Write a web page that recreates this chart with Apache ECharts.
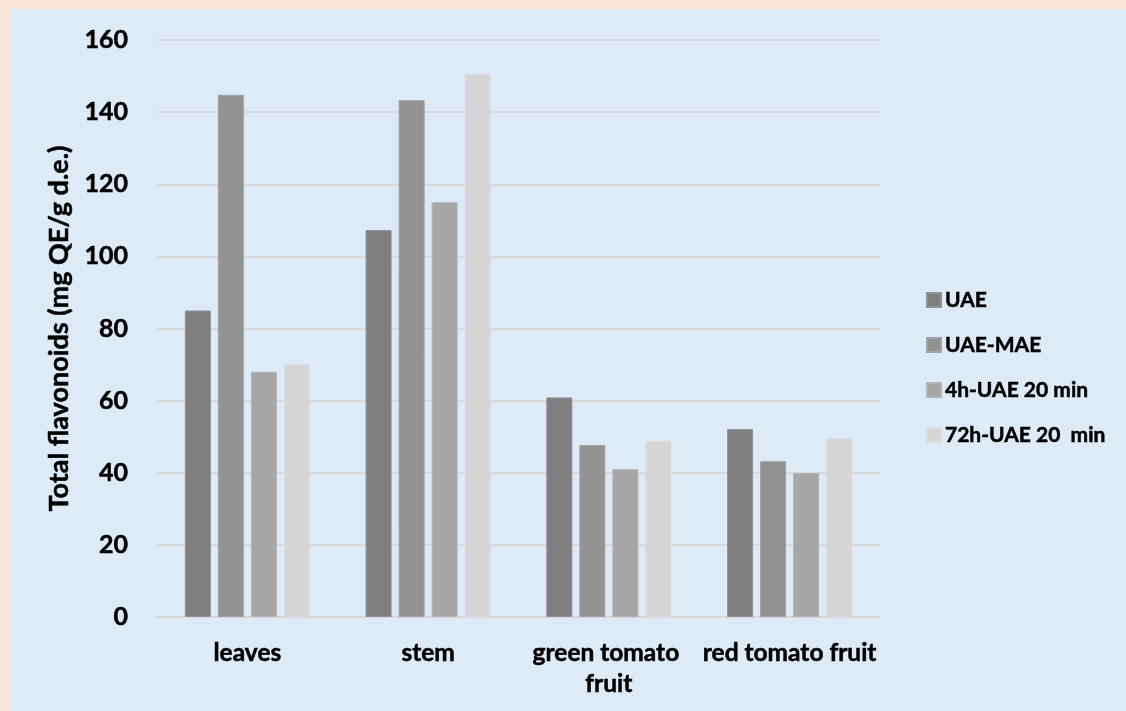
<!DOCTYPE html>
<html>
<head>
<meta charset="utf-8">
<script src="https://cdn.jsdelivr.net/npm/echarts@6/dist/echarts.min.js"></script>
<style>
  html, body { margin: 0; padding: 0; background: #fbe5d6; width: 1126px; height: 711px; overflow: hidden; }
  #chart { position: absolute; left: 9px; top: 9px; width: 1117px; height: 702px; }
</style>
</head>
<body>
<div id="chart"></div>
<script>
// Plant parts on the x axis
const categories = ['leaves', 'stem', 'green tomato fruit', 'red tomato fruit'];

// Extraction methods (legend order)
const seriesNames = ['UAE', 'UAE-MAE', '4h-UAE 20 min', '72h-UAE 20  min'];

// Total flavonoids, mg QE/g d.e.
const uae      = [85.0, 107.3, 60.9, 52.1];
const uaeMae   = [144.8, 143.3, 47.7, 43.2];
const uae4h    = [68.0, 115.0, 41.0, 39.9];
const uae72h   = [70.1, 150.6, 48.8, 49.6];

const yTicks = [0, 20, 40, 60, 80, 100, 120, 140, 160];

const colors = ['#7f7f7f', '#929292', '#a6a6a6', '#d6d6d6'];
const borders = ['#8f9296', '#9fa2a6', '#b2b4b7', '#dcdde0'];
const FONT = 'Lato, "Open Sans", sans-serif';

// slightly heavier strokes for bold text
const heavy = { textBorderColor: '#000', textBorderWidth: 0.5 };

const chart = echarts.init(document.getElementById('chart'));

const seriesData = [uae, uaeMae, uae4h, uae72h];

chart.setOption({
  backgroundColor: '#deeaf6',
  animation: false,
  textStyle: { fontFamily: FONT },
  grid: { left: 148, right: 246, top: 31, bottom: 94 },
  legend: {
    orient: 'vertical',
    left: 912,
    top: 275,
    itemWidth: 14,
    itemHeight: 14,
    itemGap: 23,
    icon: 'rect',
    textStyle: Object.assign({ fontFamily: FONT, fontWeight: 'bold', fontSize: 21, color: '#000', lineHeight: 22, padding: [0, 0, 0, -1] }, heavy),
    data: seriesNames
  },
  xAxis: {
    type: 'category',
    data: categories,
    axisLine: { show: true, lineStyle: { color: '#d6d6d6', width: 2 } },
    axisTick: { show: false },
    axisLabel: Object.assign({
      fontFamily: FONT, fontWeight: 'bold', fontSize: 24.5, color: '#000',
      margin: 21, lineHeight: 31,
      width: 186, overflow: 'break', interval: 0
    }, heavy)
  },
  yAxis: {
    type: 'value',
    min: yTicks[0],
    max: yTicks[yTicks.length - 1],
    interval: yTicks[1] - yTicks[0],
    name: 'Total flavonoids (mg QE/g d.e.)',
    nameLocation: 'middle',
    nameGap: 82,
    nameTextStyle: Object.assign({ fontFamily: FONT, fontWeight: 'bold', fontSize: 27, color: '#000' }, heavy),
    axisLine: { show: false },
    axisTick: { show: false },
    axisLabel: Object.assign({ fontFamily: FONT, fontWeight: 'bold', fontSize: 25, color: '#000', margin: 29 }, heavy),
    splitLine: { lineStyle: { color: '#d9d9d9', width: 2 } }
  },
  series: seriesNames.map((name, i) => ({
    name: name,
    type: 'bar',
    data: seriesData[i],
    barWidth: 26,
    barGap: '27%',
    itemStyle: { color: colors[i], borderColor: borders[i], borderWidth: 1 }
  }))
});
</script>
</body>
</html>
